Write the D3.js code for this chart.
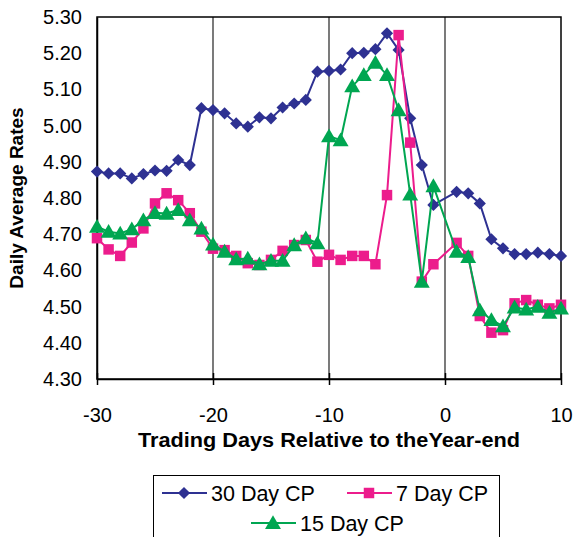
<!DOCTYPE html>
<html>
<head>
<meta charset="utf-8">
<script src="https://cdn.jsdelivr.net/npm/d3@7"></script>
<style>
  html, body { margin: 0; padding: 0; background: #fff; }
  svg { display: block; font-family: Arial, "Liberation Sans", sans-serif; }
</style>
</head>
<body>
<svg id="chart" width="574" height="537"></svg>
<script>
// Trading days around the year-end (day 0 itself is not a trading day)
const days = [-30, -29, -28, -27, -26, -25, -24, -23, -22, -21,
              -20, -19, -18, -17, -16, -15, -14, -13, -12, -11,
              -10, -9, -8, -7, -6, -5, -4, -3, -2, -1,
              1, 2, 3, 4, 5, 6, 7, 8, 9, 10];

// Daily average commercial paper rates (%)
const cp30 = [4.873, 4.868, 4.868, 4.854, 4.866, 4.876, 4.875, 4.905, 4.891, 5.048,
              5.043, 5.034, 5.006, 4.997, 5.023, 5.020, 5.050, 5.061, 5.071, 5.149,
              5.151, 5.155, 5.200, 5.201, 5.211, 5.255, 5.209, 5.020, 4.891, 4.781,
              4.817, 4.813, 4.785, 4.686, 4.661, 4.645, 4.645, 4.649, 4.645, 4.640];
const cp7 =  [4.689, 4.658, 4.640, 4.677, 4.716, 4.785, 4.813, 4.794, 4.758, 4.707,
              4.660, 4.656, 4.640, 4.620, 4.615, 4.629, 4.654, 4.670, 4.684, 4.624,
              4.643, 4.629, 4.640, 4.640, 4.617, 4.808, 5.250, 4.953, 4.569, 4.617,
              4.676, 4.640, 4.474, 4.428, 4.435, 4.509, 4.518, 4.505, 4.495, 4.505];
const cp15 = [4.721, 4.707, 4.702, 4.714, 4.739, 4.759, 4.757, 4.767, 4.739, 4.716,
              4.672, 4.652, 4.631, 4.633, 4.617, 4.627, 4.627, 4.670, 4.689, 4.675,
              4.971, 4.960, 5.109, 5.140, 5.174, 5.140, 5.043, 4.810, 4.569, 4.833,
              4.652, 4.637, 4.490, 4.463, 4.446, 4.498, 4.492, 4.500, 4.483, 4.495];

const xTicks = [-30, -20, -10, 0, 10];
const yTicks = [4.30, 4.40, 4.50, 4.60, 4.70, 4.80, 4.90, 5.00, 5.10, 5.20, 5.30];
const gridDays = [-20, -10, 0];

const seriesNames = ["30 Day CP", "7 Day CP", "15 Day CP"];
const seriesValues = [cp30, cp7, cp15];
const seriesColors = ["#2E3192", "#EC1C8C", "#00A651"];
const seriesShapes = [d3.symbolDiamond2, d3.symbolSquare, d3.symbolTriangle];
const markerSizes = [95, 110, 110];

const plot = { left: 97, right: 561, top: 17, bottom: 379 };

const x = d3.scaleLinear().domain([-30, 10]).range([plot.left, plot.right]);
const y = d3.scaleLinear().domain([4.30, 5.30]).range([plot.bottom, plot.top]);

const svg = d3.select("#chart");

// vertical gridlines
svg.append("g").selectAll("line").data(gridDays).join("line")
  .attr("x1", d => x(d)).attr("x2", d => x(d))
  .attr("y1", plot.top).attr("y2", plot.bottom)
  .attr("stroke", "#222").attr("stroke-width", 1.2);

// plot frame
svg.append("rect")
  .attr("x", plot.left).attr("y", plot.top)
  .attr("width", plot.right - plot.left).attr("height", plot.bottom - plot.top)
  .attr("fill", "none").attr("stroke", "#000").attr("stroke-width", 1.5);

// x axis with crossing ticks; plain hyphen for negatives
const xAxis = d3.axisBottom(x).tickValues(xTicks).tickSize(0).tickFormat(d => String(d));
const gx = svg.append("g").attr("transform", `translate(0,${plot.bottom})`).call(xAxis);
gx.select(".domain").attr("stroke", "#000").attr("stroke-width", 1.5);
gx.selectAll(".tick text")
  .attr("y", 29).attr("font-size", 20).attr("fill", "#000")
  .style("font-family", "Arial, 'Liberation Sans', sans-serif");
gx.selectAll(".tick").append("line")
  .attr("y1", -6).attr("y2", 6).attr("stroke", "#000").attr("stroke-width", 1.5);

// y axis labels
const yAxis = d3.axisLeft(y).tickValues(yTicks).tickSize(0).tickFormat(d3.format(".2f"));
const gy = svg.append("g").attr("transform", `translate(${plot.left},0)`).call(yAxis);
gy.select(".domain").attr("stroke", "#000").attr("stroke-width", 1.5);
gy.selectAll(".tick text")
  .attr("x", -15).attr("font-size", 20).attr("fill", "#000")
  .style("font-family", "Arial, 'Liberation Sans', sans-serif");

// series lines and markers
const line = d3.line().x(d => x(d[0])).y(d => y(d[1]));
seriesValues.forEach((vals, i) => {
  const pts = days.map((d, j) => [d, vals[j]]);
  const g = svg.append("g");
  g.append("path").datum(pts)
    .attr("d", line).attr("fill", "none")
    .attr("stroke", seriesColors[i]).attr("stroke-width", 2);
  g.selectAll("path.m").data(pts).join("path")
    .attr("class", "m")
    .attr("transform", d => `translate(${x(d[0])},${y(d[1]) + (i === 2 ? 1.5 : 0)})`)
    .attr("d", d3.symbol(seriesShapes[i], markerSizes[i]))
    .attr("fill", seriesColors[i]);
});

// axis titles
svg.append("text")
  .attr("x", 329).attr("y", 447)
  .attr("text-anchor", "middle").attr("font-size", 19.5).attr("font-weight", "bold")
  .attr("textLength", 382).attr("lengthAdjust", "spacingAndGlyphs")
  .text("Trading Days Relative to theYear-end");

svg.append("text")
  .attr("transform", "translate(23,198) rotate(-90)")
  .attr("text-anchor", "middle").attr("font-size", 19).attr("font-weight", "bold")
  .text("Daily Average Rates");

// legend
const lg = svg.append("g");
lg.append("rect")
  .attr("x", 153.5).attr("y", 475.5).attr("width", 346).attr("height", 90)
  .attr("fill", "#fff").attr("stroke", "#000").attr("stroke-width", 1);

const legendPos = [
  { lx: 162, ly: 493 },
  { lx: 347, ly: 493 },
  { lx: 251, ly: 523 }
];
seriesNames.forEach((name, i) => {
  const p = legendPos[i];
  const item = lg.append("g").attr("transform", `translate(${p.lx},${p.ly})`);
  item.append("line").attr("x1", 0).attr("x2", 45).attr("y1", 0).attr("y2", 0)
    .attr("stroke", seriesColors[i]).attr("stroke-width", 2);
  item.append("path")
    .attr("transform", `translate(22,${i === 2 ? 1.5 : 0})`)
    .attr("d", d3.symbol(seriesShapes[i], markerSizes[i]))
    .attr("fill", seriesColors[i]);
  item.append("text")
    .attr("x", 49).attr("y", 7.5).attr("font-size", 21.5).attr("fill", "#000")
    .text(name);
});
</script>
</body>
</html>
